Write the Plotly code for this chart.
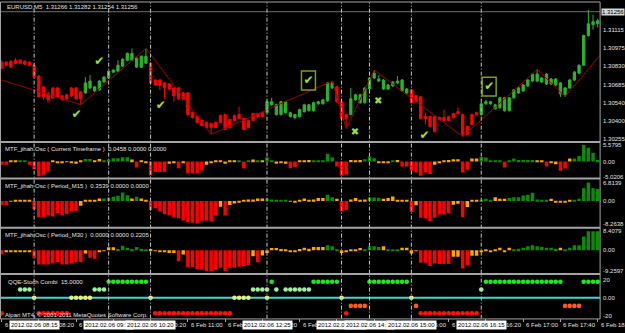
import plotly.graph_objects as go

W, H = 625, 333
N = 129
idx = list(range(N))  # bar index 0 = 6 Feb 07:40, M5 bars

# ---------------- main chart: EURUSD,M5 candles ----------------
opens = [1.30860,1.30860,1.30867,1.30875,1.30875,1.30867,1.30860,1.30836,1.30751,1.30666,
 1.30612,1.30658,1.30658,1.30596,1.30604,1.30658,1.30658,1.30627,1.30619,1.30658,
 1.30635,1.30643,1.30705,1.30736,1.30782,1.30790,1.30829,1.30875,1.30875,1.30821,
 1.30821,1.30852,1.30852,1.30720,1.30720,1.30697,1.30689,1.30658,1.30658,1.30619,
 1.30619,1.30464,1.30433,1.30402,1.30387,1.30379,1.30387,1.30441,1.30449,1.30410,
 1.30441,1.30449,1.30418,1.30402,1.30457,1.30457,1.30464,1.30464,1.30526,1.30449,
 1.30449,1.30464,1.30433,1.30426,1.30433,1.30472,1.30480,1.30480,1.30534,1.30534,
 1.30557,1.30658,1.30666,1.30550,1.30449,1.30449,1.30565,1.30542,1.30542,1.30650,
 1.30736,1.30712,1.30650,1.30650,1.30674,1.30697,1.30635,1.30619,1.30643,1.30596,
 1.30588,1.30433,1.30433,1.30433,1.30426,1.30426,1.30433,1.30457,1.30472,1.30449,
 1.30356,1.30449,1.30464,1.30449,1.30534,1.30534,1.30495,1.30503,1.30480,1.30480,
 1.30581,1.30619,1.30635,1.30674,1.30712,1.30712,1.30705,1.30689,1.30689,1.30681,
 1.30612,1.30604,1.30658,1.30720,1.30774,1.30836,1.31069,1.31154,1.31162]
highs = [1.30875,1.30867,1.30875,1.30891,1.30883,1.30875,1.30867,1.30844,1.30759,1.30674,
 1.30627,1.30666,1.30666,1.30604,1.30612,1.30666,1.30666,1.30635,1.30743,1.30759,
 1.30674,1.30720,1.30751,1.30798,1.30805,1.30875,1.30891,1.30937,1.30968,1.30898,
 1.30914,1.30968,1.30860,1.30728,1.30728,1.30705,1.30697,1.30666,1.30666,1.30627,
 1.30627,1.30472,1.30441,1.30418,1.30395,1.30387,1.30395,1.30449,1.30457,1.30418,
 1.30449,1.30511,1.30426,1.30410,1.30464,1.30464,1.30472,1.30557,1.30581,1.30534,
 1.30557,1.30557,1.30472,1.30457,1.30495,1.30534,1.30534,1.30550,1.30557,1.30573,
 1.30705,1.30712,1.30674,1.30557,1.30457,1.30658,1.30612,1.30612,1.30666,1.30743,
 1.30798,1.30759,1.30728,1.30689,1.30712,1.30751,1.30728,1.30658,1.30650,1.30604,
 1.30596,1.30464,1.30441,1.30441,1.30433,1.30488,1.30441,1.30464,1.30503,1.30457,
 1.30364,1.30457,1.30472,1.30542,1.30565,1.30557,1.30534,1.30588,1.30588,1.30588,
 1.30650,1.30666,1.30689,1.30728,1.30774,1.30805,1.30743,1.30774,1.30736,1.30736,
 1.30705,1.30666,1.30728,1.30790,1.30844,1.31077,1.31270,1.31232,1.31201]
lows = [1.30805,1.30829,1.30813,1.30844,1.30844,1.30836,1.30829,1.30736,1.30581,1.30565,
 1.30542,1.30573,1.30581,1.30557,1.30565,1.30588,1.30565,1.30526,1.30612,1.30650,
 1.30627,1.30635,1.30697,1.30728,1.30774,1.30782,1.30821,1.30867,1.30867,1.30813,
 1.30813,1.30844,1.30689,1.30674,1.30643,1.30573,1.30635,1.30550,1.30565,1.30565,
 1.30441,1.30418,1.30379,1.30356,1.30340,1.30294,1.30340,1.30379,1.30325,1.30340,
 1.30395,1.30410,1.30325,1.30340,1.30395,1.30426,1.30426,1.30457,1.30519,1.30441,
 1.30441,1.30457,1.30426,1.30410,1.30426,1.30464,1.30472,1.30472,1.30526,1.30526,
 1.30550,1.30650,1.30542,1.30340,1.30348,1.30441,1.30557,1.30534,1.30534,1.30643,
 1.30728,1.30705,1.30643,1.30643,1.30666,1.30689,1.30627,1.30612,1.30534,1.30542,
 1.30410,1.30371,1.30348,1.30309,1.30402,1.30395,1.30395,1.30418,1.30449,1.30278,
 1.30286,1.30364,1.30441,1.30441,1.30526,1.30526,1.30488,1.30495,1.30472,1.30472,
 1.30573,1.30612,1.30627,1.30666,1.30705,1.30705,1.30697,1.30681,1.30681,1.30674,
 1.30588,1.30588,1.30650,1.30712,1.30767,1.30829,1.31061,1.31115,1.31131]
closes = [1.30813,1.30836,1.30821,1.30852,1.30852,1.30844,1.30836,1.30743,1.30588,1.30588,
 1.30565,1.30581,1.30588,1.30565,1.30573,1.30596,1.30573,1.30573,1.30697,1.30712,
 1.30666,1.30712,1.30743,1.30790,1.30798,1.30836,1.30883,1.30929,1.30929,1.30891,
 1.30906,1.30906,1.30697,1.30681,1.30681,1.30658,1.30650,1.30596,1.30573,1.30573,
 1.30449,1.30426,1.30387,1.30364,1.30348,1.30348,1.30348,1.30387,1.30333,1.30348,
 1.30402,1.30418,1.30333,1.30348,1.30402,1.30433,1.30433,1.30550,1.30550,1.30526,
 1.30550,1.30550,1.30464,1.30449,1.30488,1.30526,1.30526,1.30542,1.30550,1.30565,
 1.30697,1.30697,1.30550,1.30418,1.30418,1.30573,1.30604,1.30604,1.30658,1.30736,
 1.30774,1.30728,1.30720,1.30681,1.30705,1.30712,1.30720,1.30650,1.30542,1.30550,
 1.30418,1.30418,1.30356,1.30317,1.30410,1.30402,1.30402,1.30426,1.30457,1.30294,
 1.30294,1.30371,1.30449,1.30534,1.30550,1.30550,1.30526,1.30581,1.30581,1.30581,
 1.30643,1.30658,1.30681,1.30720,1.30767,1.30767,1.30736,1.30767,1.30728,1.30728,
 1.30697,1.30658,1.30720,1.30782,1.30836,1.31069,1.31162,1.31177,1.31185]
last_price = 1.31256

# zigzag pivots
zz_idx = [0, 17, 31, 45, 71, 74, 80, 99, 115, 121, 128.5]
zz_price = [1.30720, 1.30526, 1.30968, 1.30294, 1.30712, 1.30338, 1.30798, 1.30276, 1.30803, 1.30591, 1.30914]

# signal marks
check_idx = [16.1, 21.0, 34.2, 90.8]
check_price = [1.30449, 1.30860, 1.30513, 1.30281]
boxcheck_idx = [65.9, 104.7]
boxcheck_price = [1.30716, 1.30668]
cross_idx = [75.9, 80.9]
cross_price = [1.30307, 1.30552]

# ---------------- oscillators ----------------
osc_cur = [-1.11,-1.11,0.33,0.33,0.1,0.1,-1.11,-2.67,-5.02,-4.44,
 -3.33,0.33,-0.44,-0.44,-0.2,-0.44,-0.78,0.44,0.89,0.89,
 0.2,0.89,0.2,0.67,1.11,1.11,1.44,1.44,0.67,-2.0,
 0.33,-0.44,-4.67,-3.56,-3.56,-3.56,-0.78,-0.33,-2.22,-0.33,
 -4.0,-4.0,-4.0,-3.0,-1.11,-0.33,0.1,0.33,-0.78,0.1,
 0.33,0.1,-2.22,0.1,0.67,0.1,0.2,1.44,0.1,-0.78,
 -0.44,-0.78,-2.22,-1.89,0.2,0.33,0.56,0.1,0.1,0.1,
 2.67,1.33,-1.67,-4.78,-4.44,0.56,0.1,0.56,0.78,1.67,
 1.11,-0.56,-0.56,-0.56,0.1,0.56,-1.67,-1.67,-3.11,-3.67,
 -4.78,-3.67,-4.22,-1.11,-0.33,0.1,0.56,0.78,0.78,-3.67,
 -2.78,1.0,1.0,1.56,1.33,0.1,0.1,0.33,-2.0,0.1,
 1.0,0.56,0.56,0.56,0.56,0.2,0.1,-1.67,-0.56,-0.89,
 -3.11,-2.33,1.0,1.0,1.89,5.58,4.67,3.0,0.56]
st_cur = ("rrooggrrrr" "rooooooogg" "ooggggggor" "oorrrrooro" "rrrroooooo"
          "ogrgogoggo" "oorroooggg" "ggrrrooogg" "gooogorrrr" "rrroooooor"
          "roogggggrg" "gggggooroo" "rrogggggg")

osc_m15 = [-1.45,-1.45,-0.24,0.12,0.12,0.12,0.24,-2.91,-5.94,-5.94,
 -5.33,-5.7,-4.48,-5.33,-4.85,-3.88,-3.64,-1.7,0.12,0.12,
 0.36,0.97,0.97,1.21,1.58,1.94,3.15,2.18,0.97,1.58,
 0.97,0.12,-3.27,-2.67,-3.88,-4.85,-5.33,-6.06,-6.3,-7.15,
 -7.76,-8.0,-8.26,-7.27,-7.27,-7.5,-5.33,-2.06,-5.33,-1.45,
 -0.85,-0.48,0.24,0.6,0.6,0.97,0.97,0.97,0.6,0.12,
 0.36,0.12,-0.24,-0.48,0.36,0.97,0.48,0.6,1.09,1.09,
 2.3,1.45,0.85,-3.76,-3.39,0.6,1.09,0.36,0.6,1.45,
 1.33,1.21,0.85,1.09,1.7,0.12,0.24,0.24,-4.0,-1.58,
 -6.18,-6.42,-7.39,-6.18,-4.97,-4.97,-4.6,-1.33,-0.97,-5.82,
 -2.18,0.24,0.12,0.48,0.85,0.48,1.45,0.85,0.85,1.09,
 1.45,1.45,2.06,2.3,3.03,0.6,0.36,0.24,0.85,-0.6,
 -0.6,-0.36,0.36,0.48,0.85,4.73,6.81,4.73,4.48]
st_m15 = ("rrooooorrr" "rrrrrrrooo" "ooggggggog" "oorrrrrrrr" "rrrrrrroro"
          "oooooooggg" "ggoooooooo" "ggorroooog" "ggooooooro" "rrrrrrroor"
          "ooogggooog" "ggggggggoo" "ooogggggg")

osc_m30 = [-1.88,-0.72,-0.58,-0.58,-0.58,-0.58,-0.58,-3.33,-6.23,-6.23,
 -6.23,-5.8,-5.22,-6.23,-6.23,-5.8,-5.22,-5.22,-1.45,-3.33,
 -3.77,-0.58,-0.29,1.3,1.3,0.58,2.03,1.01,0.58,1.45,
 0.58,0.14,0.58,-0.29,-0.58,-0.58,-1.16,-1.16,-4.78,-1.88,
 -7.39,-7.39,-8.41,-8.41,-9.13,-9.26,-8.41,-7.68,-9.13,-7.68,
 -7.68,-7.25,-6.96,-6.67,-2.61,-5.22,-2.32,-1.16,1.01,1.01,
 0.58,0.29,-0.58,-0.58,0.58,1.16,0.72,1.45,1.45,1.45,
 2.17,1.74,0.14,-1.16,-0.72,0.14,0.14,1.01,0.14,1.74,
 1.74,1.45,1.74,0.14,0.14,0.14,1.16,1.16,-1.45,-0.29,
 -5.51,-5.51,-6.96,-5.8,-6.09,-6.09,-6.09,-2.9,-2.9,-7.97,
 -6.52,-2.46,-2.46,-0.72,0.14,-0.72,0.14,1.16,-0.72,1.16,
 0.29,0.72,1.16,1.74,2.17,1.74,1.45,1.16,1.16,0.72,
 1.16,0.29,1.16,2.17,2.17,6.09,8.41,8.41,8.41]
st_m30 = ("roooooorrr" "rrrrrrrror" "rooooggggg" "ggooooooro" "rrrrrrrrrr"
          "rrrroroooo" "oooooooooo" "gggooooogg" "ggogggoooo" "rrrrrrroor"
          "rooooooooo" "gggggggggg" "ogggggggg")

# QQE-Stoch Combi dots (bar indices per row) and row levels
qqe_up = list(range(23, 32)) + [58] + list(range(67, 73)) + list(range(79, 88)) + list(range(104, 121)) + list(range(125, 129))
qqe_wup = [4, 5, 6, 20, 21, 22, 54, 55, 56, 57, 59, 61, 62, 63, 64, 65, 66, 103]
qqe_mid = [7, 15, 16, 17, 18, 19, 32, 50, 51, 52, 53, 57, 73, 88]
qqe_wdn = [75, 76, 77, 78, 89, 121, 122, 123, 124]
qqe_dn = [0] + list(range(8, 15)) + list(range(33, 50)) + [74] + list(range(90, 103))
qqe_levels = {'up': 17.5, 'wup': 9.0, 'mid': 0.0, 'wdn': -9.0, 'dn': -17.0}

# time axis
time_tick_idx = list(range(0, 129, 8))
time_tick_text = ["6 Feb 07:40", "6 Feb 08:20", "6 Feb 09:00", "6 Feb 09:40", "6 Feb 10:20",
                  "6 Feb 11:00", "6 Feb 11:40", "6 Feb 12:20", "6 Feb 13:00", "6 Feb 13:40",
                  "6 Feb 14:20", "6 Feb 15:00", "6 Feb 15:40", "6 Feb 16:20", "6 Feb 17:00",
                  "6 Feb 17:40", "6 Feb 18:20"]
vline_idx = [7, 23, 32, 57, 73, 79, 88, 103]
vline_text = ["2012.02.06 08:15", "2012.02.06 09:35", "2012.02.06 10:20", "2012.02.06 12:25",
              "2012.02.06 13:45", "2012.02.06 14:15", "2012.02.06 15:00", "2012.02.06 16:15"]

# ---------------- figure ----------------
def px(x):
    return x / W


def py(y):
    return 1 - y / H


XR = 603  # right edge of plotting area (px)
FONT = "Liberation Sans"
TXT = '#e2e2e2'
SIG = '#9fe02a'

fig = go.Figure()

fig.add_trace(go.Candlestick(
    x=idx, open=opens, high=highs, low=lows, close=closes,
    increasing=dict(line=dict(color='#2cb52c', width=1), fillcolor='#2cb52c'),
    decreasing=dict(line=dict(color='#ff0000', width=1), fillcolor='#ff0000'),
    whiskerwidth=0, xaxis='x', yaxis='y', hoverinfo='skip'))

fig.add_trace(go.Scatter(x=zz_idx, y=zz_price, mode='lines', line=dict(color='#a00000', width=1),
                         xaxis='x', yaxis='y', hoverinfo='skip'))

fig.add_trace(go.Scatter(x=check_idx + boxcheck_idx, y=check_price + boxcheck_price, mode='text',
                         text=['✔'] * (len(check_idx) + len(boxcheck_idx)),
                         textfont=dict(family='DejaVu Sans', size=12, color=SIG),
                         xaxis='x', yaxis='y', hoverinfo='skip', cliponaxis=False))
fig.add_trace(go.Scatter(x=cross_idx, y=cross_price, mode='text', text=['✖'] * len(cross_idx),
                         textfont=dict(family='DejaVu Sans', size=10, color=SIG),
                         xaxis='x', yaxis='y', hoverinfo='skip'))

state_colors = {'g': '#0a8c0a', 'o': '#ffa500', 'r': '#ff0000'}
for vals, states, ya in [(osc_cur, st_cur, 'y2'), (osc_m15, st_m15, 'y3'), (osc_m30, st_m30, 'y4')]:
    assert len(vals) == N and len(states) == N
    fig.add_trace(go.Bar(x=idx, y=vals, width=0.74,
                         marker=dict(color=[state_colors[s] for s in states], line=dict(width=0)),
                         xaxis='x', yaxis=ya, hoverinfo='skip'))

qqe_rows = [('up', qqe_up, '#22e622'), ('wup', qqe_wup, '#9ef09e'), ('mid', qqe_mid, '#e4ee80'),
            ('wdn', qqe_wdn, '#ff5a1e'), ('dn', qqe_dn, '#ff1010')]
for key, ids, col in qqe_rows:
    fig.add_trace(go.Scatter(x=ids, y=[qqe_levels[key]] * len(ids), mode='markers',
                             marker=dict(symbol='circle', size=4.6, color=col, line=dict(width=0)),
                             xaxis='x', yaxis='y5', hoverinfo='skip', cliponaxis=False))

shapes = []
# QQE zero level
shapes.append(dict(type='line', xref='paper', yref='y5', x0=px(1), x1=px(XR), y0=0, y1=0,
                   line=dict(color='#40d8d0', width=2), layer='below'))
# current price line
shapes.append(dict(type='line', xref='paper', yref='y', x0=px(1), x1=px(XR), y0=last_price, y1=last_price,
                   line=dict(color='#6e6e6e', width=1), layer='below'))
# boxes around boxed checks
for i, p in zip(boxcheck_idx, boxcheck_price):
    shapes.append(dict(type='rect', xref='x', yref='y', x0=i - 1.5, x1=i + 1.5, y0=p - 0.00074, y1=p + 0.00074,
                       line=dict(color='#7d9c1c', width=1.5)))
# vertical dashed lines
for i in vline_idx:
    shapes.append(dict(type='line', xref='x', yref='paper', x0=i, x1=i, y0=py(321.5), y1=py(1.5),
                       line=dict(color='#c4c4c4', width=1, dash='4px,2px,1px,2px'), layer='above'))
# frames / separators
BORDER = '#a4a4a4'
shapes.append(dict(type='rect', xref='paper', yref='paper', x0=px(0.5), x1=px(XR), y0=py(321.8), y1=py(1),
                   line=dict(color=BORDER, width=1)))
for yy in [142.7, 179.6, 229.6, 276.2]:
    shapes.append(dict(type='line', xref='paper', yref='paper', x0=px(0.5), x1=px(XR), y0=py(yy), y1=py(yy),
                       line=dict(color=BORDER, width=2)))

ann = []
def label(x, y, text, size=6, color=TXT, xanchor='left', **kw):
    ann.append(dict(xref='paper', yref='paper', x=px(x), y=py(y), text=text, showarrow=False,
                    xanchor=xanchor, yanchor='middle', font=dict(family=FONT, size=size, color=color), **kw))

label(5, 6, "EURUSD,M5  1.31266 1.31282 1.31254 1.31256")
label(3, 149.5, "MTF_jihah Osc ( Current Timeframe )  0.0458 0.0000 0.0000")
label(3, 187, "MTF_jihah Osc ( Period_M15 )  0.3539 0.0000 0.0000")
label(3, 236.5, "MTF_jihah Osc ( Period_M30 )  0.0000 0.0000 0.2205")
label(6, 284, "QQE-Stoch Combi  15.0000")
label(3, 317.5, "Alpari MT4, © 2001-2011 MetaQuotes Software Corp.")
label(604, 10.8, "1.31256", color='#000000', bgcolor='#d6d6d6', borderpad=0)

for i, t in zip(time_tick_idx, time_tick_text):
    ann.append(dict(xref='x', yref='paper', x=i, y=py(328), text=t, showarrow=False, xanchor='left',
                    yanchor='middle', xshift=1, font=dict(family=FONT, size=6, color=TXT)))
for i, t in zip(vline_idx, vline_text):
    ann.append(dict(xref='x', yref='paper', x=i, y=py(328), text=t, showarrow=False, xanchor='center',
                    yanchor='middle', bgcolor='#ffffff', borderpad=1,
                    font=dict(family=FONT, size=6, color='#000000')))

yfont = dict(family=FONT, size=6, color=TXT)
def yax(dom, rng, tv, tt):
    return dict(domain=[py(dom[1]), py(dom[0])], range=rng, side='right', anchor='x',
                tickvals=tv, ticktext=tt, ticks='', tickfont=yfont, ticklabelstandoff=2,
                showgrid=False, zeroline=False, showline=False, fixedrange=True)

fig.update_layout(
    width=W, height=H, margin=dict(l=0, r=0, t=0, b=0),
    paper_bgcolor='#000000', plot_bgcolor='#000000', showlegend=False, barmode='overlay',
    xaxis=dict(domain=[0, px(XR)], range=[-0.33, 128.52], anchor='y5',
               tickvals=time_tick_idx, ticks='outside', ticklen=3, tickcolor=BORDER,
               showticklabels=False, showgrid=False, zeroline=False, showline=False,
               rangeslider=dict(visible=False), fixedrange=True),
    yaxis=yax((2, 142), [1.302395, 1.313245],
              [1.31115, 1.30975, 1.30830, 1.30685, 1.30540, 1.30400, 1.30255],
              ["1.31115", "1.30975", "1.30830", "1.30685", "1.30540", "1.30400", "1.30255"]),
    yaxis2=yax((144, 178), [-5.167, 6.167], [5.5795, 0, -5.0206], ["5.5795", "0.00", "-5.0206"]),
    yaxis3=yax((181, 228), [-9.273, 7.818], [6.8139, 0, -8.2638], ["6.8139", "0.00", "-8.2638"]),
    yaxis4=yax((231, 275), [-9.87, 9.26], [8.4079, 0, -9.2597], ["8.4079", "0.00", "-9.2597"]),
    yaxis5=yax((277, 321), [-22.38, 25.19], [20, 0, -20], ["20", "0.00", "-20"]),
    shapes=shapes, annotations=ann,
)

fig.write_html("out.html")
